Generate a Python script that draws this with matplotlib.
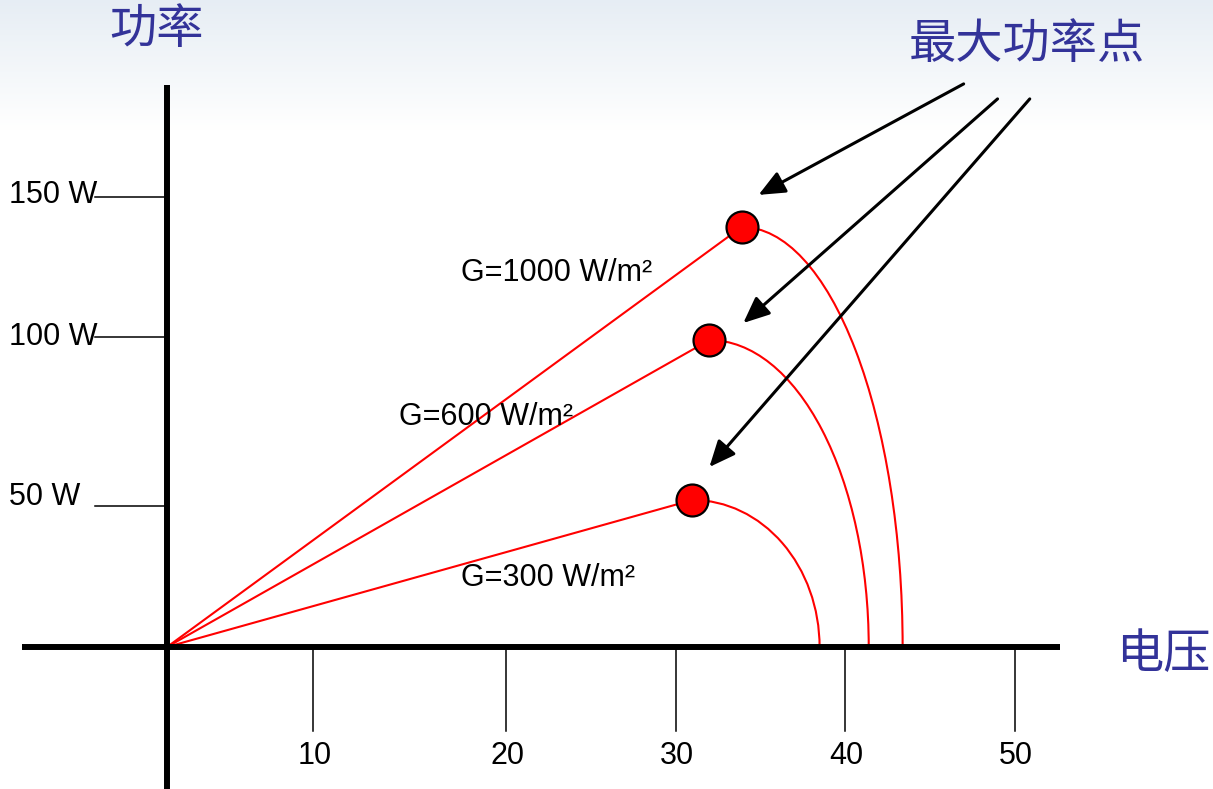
import numpy as np
import matplotlib
matplotlib.use('Agg')
import matplotlib.pyplot as plt
from matplotlib.patches import Arc

# P-V curves, one per irradiance level
labels = ['G=1000 W/m²', 'G=600 W/m²', 'G=300 W/m²']
v_mpp = [33.9, 32.0, 31.0]      # voltage at max power point
p_mpp = [140.0, 102.3, 49.0]    # power at max power point
v_oc = [43.4, 41.4, 38.5]       # open circuit voltage
label_pos = [(23.0, 124.7), (18.8, 76.7), (22.5, 23.0)]

# axis ticks (drawn by hand, as in the slide)
x_ticks = [8.6, 20, 30, 40, 50]
x_tick_labels = ['10', '20', '30', '40', '50']
y_ticks = [47.0, 103.3, 150.0]
y_label_pos = [50.0, 103.3, 150.7]
y_tick_labels = ['50 W', '100 W', '150 W']

# arrows pointing at the max power points: (start, tip)
arrow_start = [(47.0, 187.7), (49.0, 182.7), (50.9, 182.7)]
arrow_tip = [(34.9, 150.7), (34.0, 108.0), (32.0, 60.0)]

blue = '#333399'
latin = ['Liberation Sans', 'DejaVu Sans']
cjk = ['Noto Sans CJK SC', 'DejaVu Sans']

fig = plt.figure(figsize=(12.13, 7.89), dpi=100)

# light gradient band at top of slide
bg = fig.add_axes([0, 0, 1, 1], zorder=0)
grad = np.ones((789, 1, 4))
grad[:, :, 0] = 0.89
grad[:, :, 1] = 0.92
grad[:, :, 2] = 0.95
rows = np.arange(789)
grad[:, 0, 3] = np.clip(1 - rows / 130.0, 0, 1) * 0.85
bg.imshow(grad, aspect='auto', extent=[0, 1, 0, 1], origin='upper')
bg.set_xlim(0, 1)
bg.set_ylim(0, 1)
bg.axis('off')

ax = fig.add_axes([0, 0, 1, 1], zorder=1)
ax.patch.set_alpha(0)
ax.set_xlim(-167 / 16.95, (1213 - 167) / 16.95)
ax.set_ylim(-(789 - 647) / 3.0, 647 / 3.0)
ax.axis('off')

# axes
ax.plot([-8.55, 52.7], [0, 0], color='black', lw=4.3, solid_capstyle='butt', zorder=3)
ax.plot([0, 0], [-47.5, 187.3], color='black', lw=4.3, solid_capstyle='butt', zorder=3)

for xt, lab in zip(x_ticks, x_tick_labels):
    ax.plot([xt, xt], [-1, -28], color='black', lw=1.1, zorder=2)
    ax.text(xt + 0.1, -36.3, lab, fontsize=22, family=latin, ha='center', va='center')

for yt, yl, lab in zip(y_ticks, y_label_pos, y_tick_labels):
    ax.plot([-4.25, 0], [yt, yt], color='black', lw=1.1, zorder=2)
    ax.text(-9.3, yl, lab, fontsize=22, family=latin, ha='left', va='center')

# curves
for i in range(3):
    ax.plot([0, v_mpp[i]], [0, p_mpp[i]], color='red', lw=1.5, zorder=2)
    arc = Arc((v_mpp[i], 0), 2 * (v_oc[i] - v_mpp[i]), 2 * p_mpp[i],
              theta1=0, theta2=90, color='red', lw=1.5, zorder=2)
    ax.add_patch(arc)
    ax.text(label_pos[i][0], label_pos[i][1], labels[i], fontsize=22,
            family=latin, ha='center', va='center')

ax.plot(v_mpp, p_mpp, 'o', ms=23, mfc='red', mec='black', mew=1.6, zorder=5)

for s, t in zip(arrow_start, arrow_tip):
    ax.annotate('', xy=t, xytext=s,
                arrowprops=dict(arrowstyle='-|>,head_length=0.8,head_width=0.35',
                                mutation_scale=20, lw=2.2, color='black',
                                shrinkA=0, shrinkB=0), zorder=6)

ax.text(-0.6, 205.7, '功率', fontsize=34, family=cjk, color=blue,
        ha='center', va='center', fontweight='light')
ax.text(50.7, 200.7, '最大功率点', fontsize=34, family=cjk, color=blue,
        ha='center', va='center', fontweight='light')
ax.text(58.8, -2.7, '电压', fontsize=34, family=cjk, color=blue,
        ha='center', va='center', fontweight='light')

fig.savefig('out.png', dpi=100)
